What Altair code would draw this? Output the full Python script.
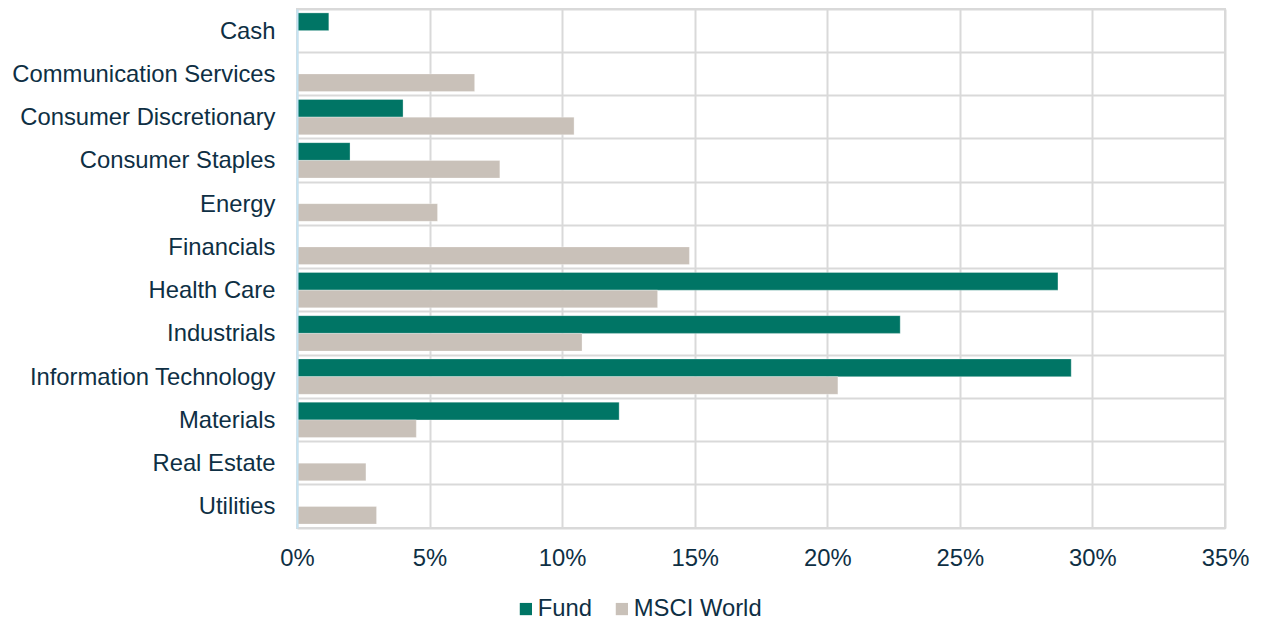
import altair as alt
import pandas as pd

categories = ["Cash", "Communication Services", "Consumer Discretionary", "Consumer Staples",
              "Energy", "Financials", "Health Care", "Industrials", "Information Technology",
              "Materials", "Real Estate", "Utilities"]
fund = [1.2, None, 4.0, 2.0, None, None, 28.7, 22.75, 29.2, 12.15, None, None]
msci = [None, 6.7, 10.45, 7.65, 5.3, 14.8, 13.6, 10.75, 20.4, 4.5, 2.6, 3.0]
series = ["Fund", "MSCI World"]
colors = ["#007565", "#c9c1b9"]
x_ticks = [0, 5, 10, 15, 20, 25, 30, 35]

rows = []
for c, f, m in zip(categories, fund, msci):
    if f is not None:
        rows.append({"Sector": c, "Series": "Fund", "Value": f})
    if m is not None:
        rows.append({"Sector": c, "Series": "MSCI World", "Value": m})
df = pd.DataFrame(rows)

text_color = "#0e2f44"
font = "Liberation Sans"

chart = alt.Chart(df).mark_bar(stroke="white", strokeWidth=0.5, strokeOpacity=0.6).encode(
    y=alt.Y("Sector:N", sort=categories, title=None,
            scale=alt.Scale(domain=categories, paddingInner=0, paddingOuter=0),
            axis=alt.Axis(bandPosition=0, grid=True, gridColor="#d9d9d9", gridWidth=2,
                          ticks=False, domain=True, domainColor="#c4e4f4", domainWidth=2,
                          labelFontSize=23.8, labelColor=text_color, labelFont=font,
                          labelPadding=22, labelLimit=400, labelOffset=1, zindex=1)),
    yOffset=alt.YOffset("Series:N", scale=alt.Scale(domain=series, paddingInner=0, paddingOuter=0.22)),
    x=alt.X("Value:Q", title=None,
            scale=alt.Scale(domain=[0, 35], nice=False),
            axis=alt.Axis(values=x_ticks, labelExpr="datum.value + '%'", grid=True,
                          gridColor="#d9d9d9", gridWidth=2, ticks=False,
                          domain=True, domainColor="#d9d9d9", domainWidth=2,
                          labelFontSize=23.8, labelColor=text_color, labelFont=font,
                          labelPadding=18, labelFlush=False)),
    color=alt.Color("Series:N", scale=alt.Scale(domain=series, range=colors),
                    legend=alt.Legend(title=None, orient="none", legendX=217, legendY=588,
                                      direction="horizontal", symbolType="square",
                                      symbolSize=150, symbolStrokeWidth=0, padding=0,
                                      labelFontSize=23.8, labelColor=text_color, labelFont=font,
                                      columnPadding=17, labelOffset=0)),
).properties(
    width=928, height=519,
    autosize=alt.AutoSizeParams(type="none"),
    padding={"left": 297, "top": 9, "right": 41, "bottom": 93},
).configure_view(stroke="#d9d9d9", strokeWidth=2)

chart.save("out.html", embed_options={"renderer": "svg", "actions": False})
